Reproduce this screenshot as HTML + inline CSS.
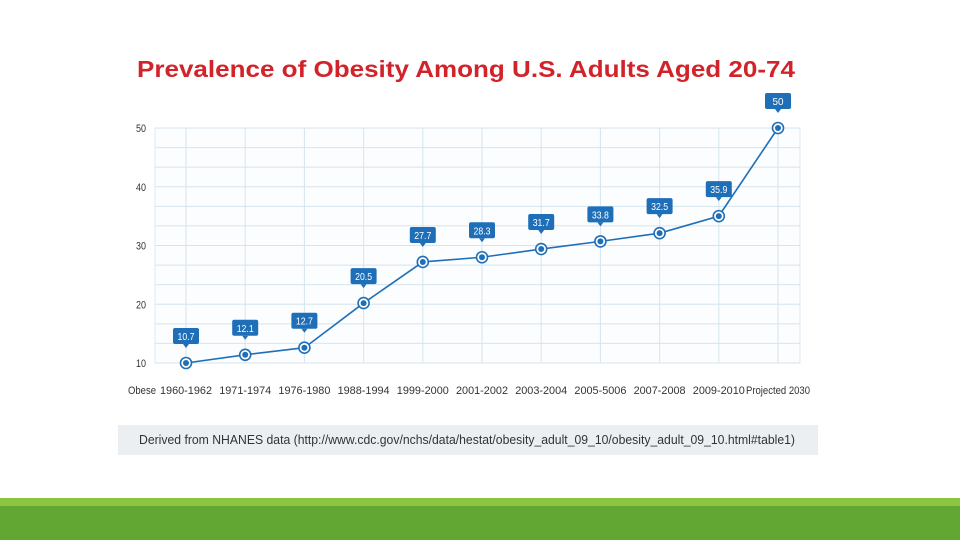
<!DOCTYPE html>
<html><head><meta charset="utf-8"><style>
body{margin:0;width:960px;height:540px;background:#fff;overflow:hidden;font-family:"Liberation Sans",sans-serif;position:relative}
</style></head><body>
<svg width="960" height="90" style="position:absolute;left:0;top:0"><text x="137" y="77" font-size="23" font-weight="bold" fill="#d2232a" textLength="658" lengthAdjust="spacingAndGlyphs">Prevalence of Obesity Among U.S. Adults Aged 20-74</text></svg>
<svg id="chart" width="960" height="420" style="position:absolute;left:0;top:0"></svg>
<div style="position:absolute;left:118px;top:425px;width:700px;height:30px;background:#eceff1"></div>
<svg width="960" height="40" style="position:absolute;left:0;top:425px"><text x="139" y="19" font-size="12.5" fill="#333" textLength="656" lengthAdjust="spacingAndGlyphs">Derived from NHANES data (http://www.cdc.gov/nchs/data/hestat/obesity_adult_09_10/obesity_adult_09_10.html#table1)</text></svg>
<div style="position:absolute;left:0;top:498px;width:960px;height:8px;background:#8cc63f"></div>
<div style="position:absolute;left:0;top:506px;width:960px;height:34px;background:#62a734"></div>
<script>
const categories=["1960-1962","1971-1974","1976-1980","1988-1994","1999-2000","2001-2002","2003-2004","2005-5006","2007-2008","2009-2010","Projected 2030"];
const values=[10,11.4,12.6,20.2,27.2,28,29.4,30.7,32.1,35,50];
const labels=["10.7","12.1","12.7","20.5","27.7","28.3","31.7","33.8","32.5","35.9","50"];
const yTicks=[10,20,30,40,50];
const NS="http://www.w3.org/2000/svg";
const svg=document.getElementById('chart');
const x0=186,dx=59.2,yMin=10,yMax=50,py0=363,py1=128;
const X=i=>x0+i*dx;
const Y=v=>py0-(v-yMin)/(yMax-yMin)*(py0-py1);
function mk(t,a,p){const e=document.createElementNS(NS,t);for(const k in a)e.setAttribute(k,a[k]);(p||svg).appendChild(e);return e;}
let bg=mk('rect',{x:155,y:py1,width:645,height:py0-py1,fill:'#fbfdff',stroke:'#dde8f0'});

for(let k=0;k<=12;k++){const v=yMin+k*(yMax-yMin)/12;const g=mk('line',{x1:155,x2:800,y1:Y(v),y2:Y(v),stroke:'#d6e4ee','stroke-width':1});
}
categories.forEach((c,i)=>{const g=mk('line',{x1:X(i),x2:X(i),y1:py1,y2:py0,stroke:'#d6e4ee'});

const t=mk('text',{x:X(i),y:394,'text-anchor':'middle','font-size':11,fill:'#333',textLength:c.length>9?64:52,lengthAdjust:'spacingAndGlyphs'});t.textContent=c;
});
const ob=mk('text',{x:142,y:394,'text-anchor':'middle','font-size':11,fill:'#333',textLength:28,lengthAdjust:'spacingAndGlyphs'});ob.textContent='Obese';

yTicks.forEach(v=>{const t=mk('text',{x:136,y:Y(v)+4,'text-anchor':'start','font-size':11,fill:'#333',textLength:10,lengthAdjust:'spacingAndGlyphs'});t.textContent=v;
});
const line=mk('polyline',{points:values.map((v,i)=>X(i)+','+Y(v)).join(' '),fill:'none',stroke:'#1f6fb8','stroke-width':1.6});

values.forEach((v,i)=>{const cx=X(i),cy=Y(v);
const o=mk('circle',{cx,cy,r:5.5,fill:'#fff',stroke:'#1f6fb8','stroke-width':1.6});

mk('circle',{cx,cy,r:3,fill:'#1f6fb8'});
const g=mk('g',{});
const by=cy-35;
mk('rect',{x:cx-13,y:by,width:26,height:16,rx:2,fill:'#1f6fb8'},g);
mk('path',{d:`M${cx-3} ${by+16}L${cx} ${by+20}L${cx+3} ${by+16}Z`,fill:'#1f6fb8'},g);
const t=mk('text',{x:cx,y:by+12,'text-anchor':'middle','font-size':10.5,fill:'#fff',textLength:labels[i].length>2?17:11,lengthAdjust:'spacingAndGlyphs'},g);t.textContent=labels[i];});
</script>
</body></html>
